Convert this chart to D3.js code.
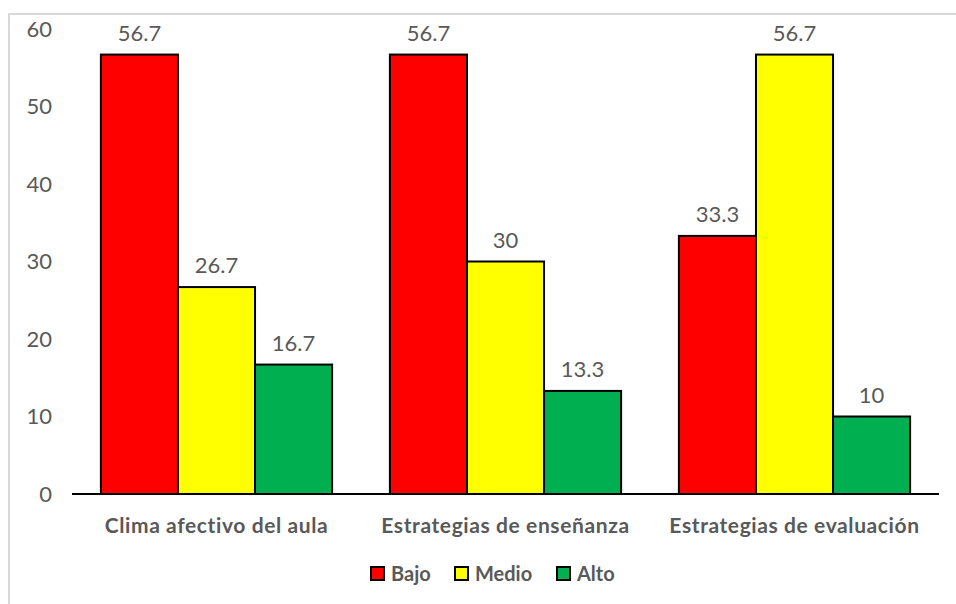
<!DOCTYPE html>
<html>
<head>
<meta charset="utf-8">
<script src="https://cdn.jsdelivr.net/npm/d3@7"></script>
<style>
  html, body { margin: 0; padding: 0; background: #fff; }
  svg { display: block; }
  text { font-family: Lato, "Open Sans", sans-serif; fill: #595959; }
</style>
</head>
<body>
<svg id="chart" width="956" height="604"></svg>
<script>
// Dimensions of each scale (categories along x) and the three levels
const categories = ["Clima afectivo del aula", "Estrategias de enseñanza", "Estrategias de evaluación"];
const seriesNames = ["Bajo", "Medio", "Alto"];
const bajo  = [56.7, 56.7, 33.3];
const medio = [26.7, 30, 56.7];
const alto  = [16.7, 13.3, 10];
const yTicks = [0, 10, 20, 30, 40, 50, 60];
const colors = ["#FF0000", "#FFFF00", "#00B050"];

const seriesValues = [bajo, medio, alto];
const rows = categories.map((c, i) => ({
  category: c,
  values: seriesNames.map((s, j) => ({ series: s, value: seriesValues[j][i], color: colors[j] }))
}));

const svg = d3.select("#chart");

// Outer chart-area frame
svg.append("rect")
  .attr("x", 9).attr("y", 14).attr("width", 960).attr("height", 610)
  .attr("fill", "none").attr("stroke", "#d9d9d9").attr("stroke-width", 2);

const x0 = d3.scaleBand().domain(categories).range([72, 939]).paddingInner(0.2).paddingOuter(0.1);
const x1 = d3.scaleBand().domain(seriesNames).range([0, x0.bandwidth()]);
const y = d3.scaleLinear().domain([0, 60]).range([494, 29]);

// Y tick labels (no axis line)
svg.append("g").selectAll("text").data(yTicks).join("text")
  .attr("x", 52).attr("y", d => y(d)).attr("dy", "0.36em")
  .attr("text-anchor", "end").attr("font-size", 22)
  .text(d => d);

// Bars
const groups = svg.append("g").selectAll("g").data(rows).join("g")
  .attr("transform", d => `translate(${x0(d.category)},0)`);

groups.selectAll("rect").data(d => d.values).join("rect")
  .attr("x", d => x1(d.series))
  .attr("y", d => y(d.value))
  .attr("width", x1.bandwidth())
  .attr("height", d => y(0) - y(d.value))
  .attr("fill", d => d.color)
  .attr("stroke", "#000").attr("stroke-width", 2);

// Value labels
groups.selectAll("text").data(d => d.values).join("text")
  .attr("x", d => x1(d.series) + x1.bandwidth() / 2)
  .attr("y", d => y(d.value) - 14)
  .attr("text-anchor", "middle").attr("font-size", 22)
  .text(d => d.value);

// X axis baseline and category labels
svg.append("line")
  .attr("x1", 72).attr("x2", 939).attr("y1", y(0)).attr("y2", y(0))
  .attr("stroke", "#000").attr("stroke-width", 2);

svg.append("g").selectAll("text").data(categories).join("text")
  .attr("x", d => x0(d) + x0.bandwidth() / 2)
  .attr("y", 533)
  .attr("text-anchor", "middle").attr("font-size", 21).attr("font-weight", "bold")
  .attr("letter-spacing", 0.6)
  .text(d => d);

// Legend
const legendItems = [
  { name: seriesNames[0], color: colors[0], x: 371 },
  { name: seriesNames[1], color: colors[1], x: 455 },
  { name: seriesNames[2], color: colors[2], x: 557 }
];
const legend = svg.append("g").selectAll("g").data(legendItems).join("g")
  .attr("transform", d => `translate(${d.x},567)`);
legend.append("rect")
  .attr("width", 13).attr("height", 13)
  .attr("fill", d => d.color).attr("stroke", "#000").attr("stroke-width", 2);
legend.append("text")
  .attr("x", 20).attr("y", 7).attr("dy", "0.36em")
  .attr("font-size", 20).attr("font-weight", "bold")
  .text(d => d.name);
</script>
</body>
</html>
